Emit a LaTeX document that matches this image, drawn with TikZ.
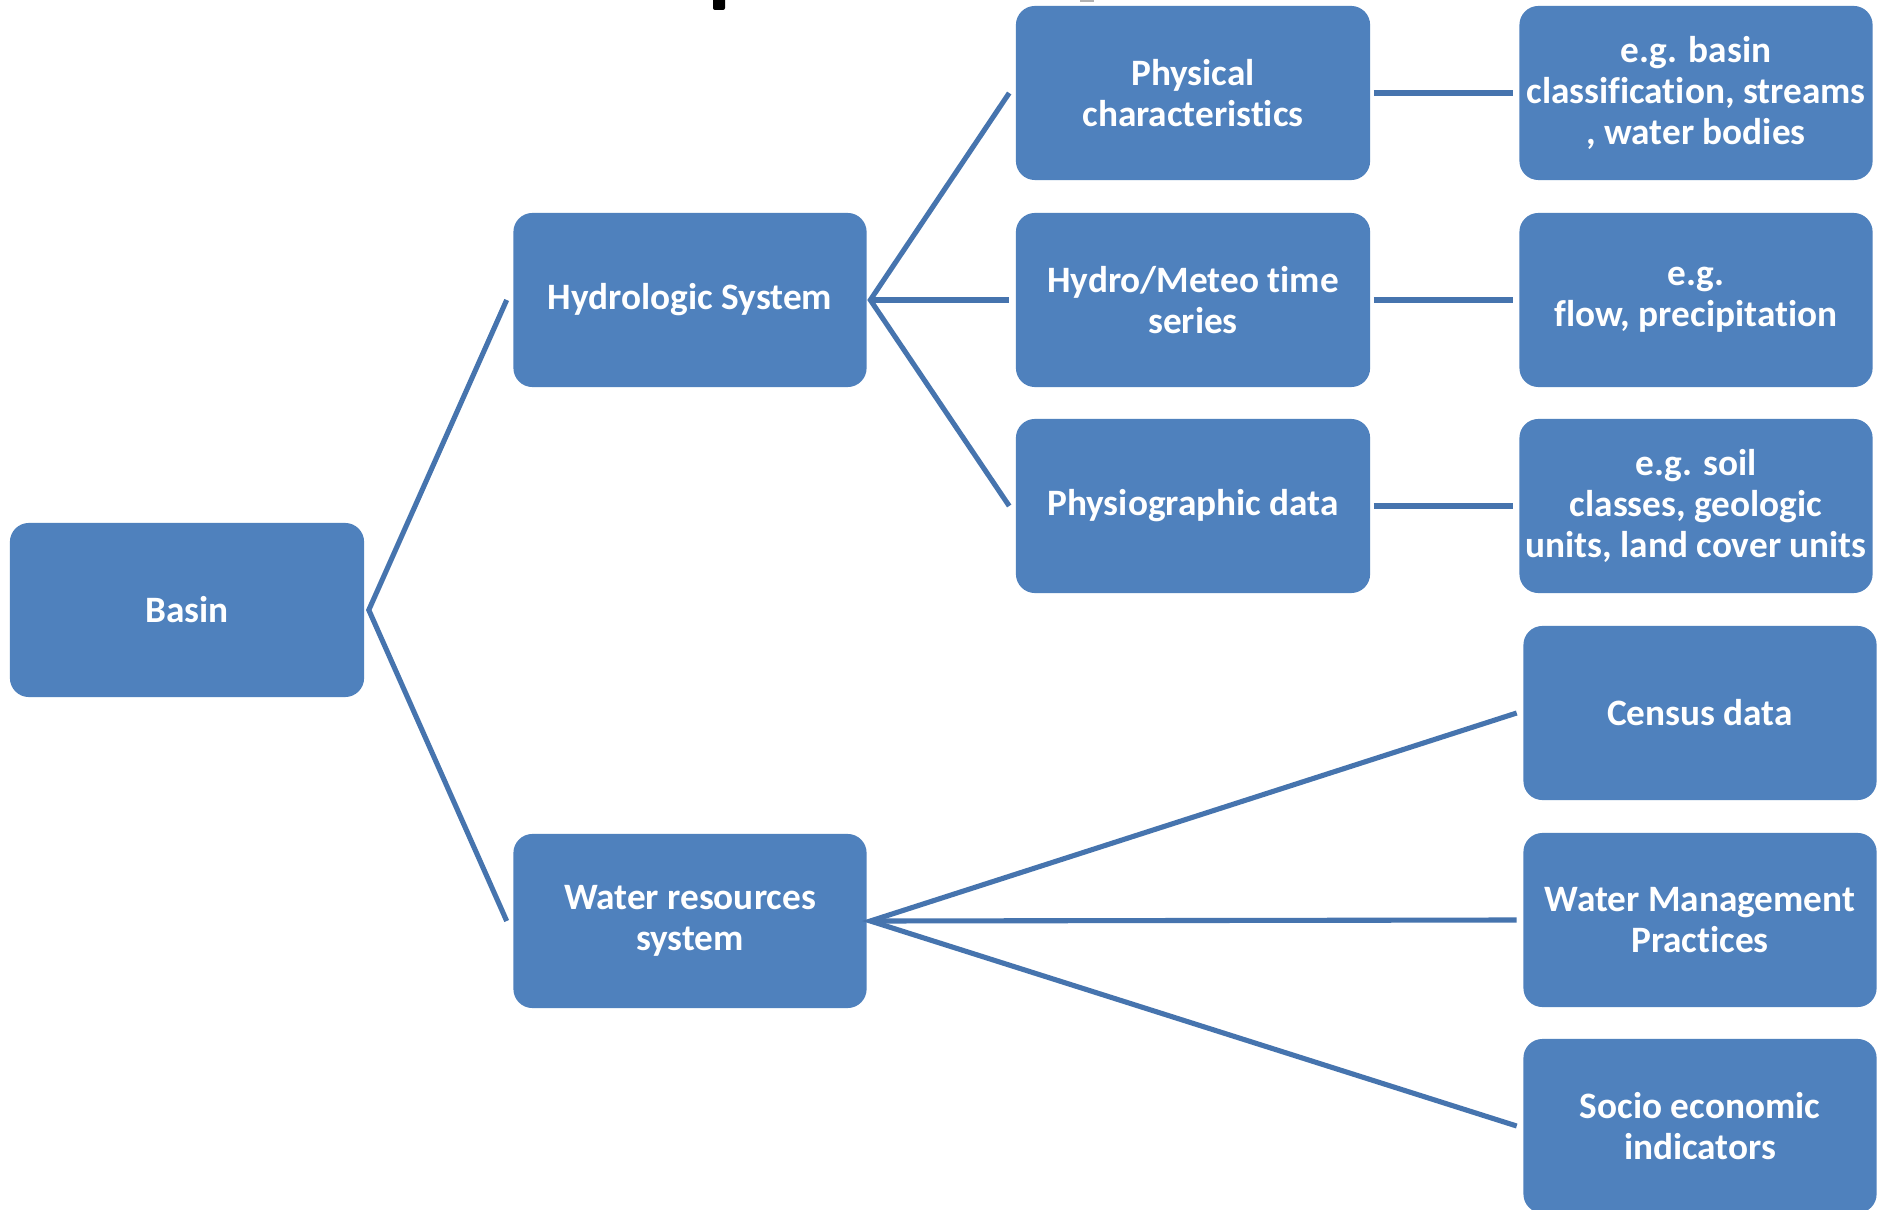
\documentclass[tikz,border=0pt]{standalone}
\usepackage{fontspec}
\setmainfont{Carlito}[Ligatures=NoCommon]
\definecolor{boxblue}{HTML}{4F81BD}
\definecolor{lineblue}{HTML}{4674AE}
\begin{document}
\begin{tikzpicture}[x=0.01cm,y=-0.01cm,
  box/.style={draw=none, fill=boxblue, rounded corners=0.19cm, minimum width=3.53cm, minimum height=1.74cm,
    text=white, align=center, inner sep=0pt, font=\fontsize{10.6pt}{11.7pt}\selectfont\bfseries},
  conn/.style={draw=lineblue, line width=1.45pt, line join=miter}]
\clip (0,0) rectangle (1877,1210);
\fill[white] (0,0) rectangle (1877,1210);
% cut-off title fragments
\fill[black, rounded corners=0.02cm] (713,-5) rectangle (725,10);
\fill[gray!60] (1080,0) rectangle (1094,2);

\node[box, minimum width=3.54cm] (basin) at (187,610) {\raisebox{-2pt}{Basin}};
\node[box] (hydro) at (690,300) {\raisebox{-2pt}{Hydrologic System}};
\node[box] (water) at (690,921) {Water resources\\system};

\node[box, minimum width=3.54cm] (phys) at (1193,93) {Physical\\characteristics};
\node[box, minimum width=3.54cm] (meteo) at (1193,300) {Hydro/Meteo time\\series};
\node[box, minimum width=3.54cm] (physio) at (1193,506) {\raisebox{-2pt}{Physiographic data}};

\node[box] (eg1) at (1696,93) {e.g. basin\\classification, streams\\, water bodies};
\node[box] (eg2) at (1696,300) {e.g.\\flow, precipitation};
\node[box] (eg3) at (1696,506) {e.g. soil\\classes, geologic\\units, land cover units};

\node[box] (census) at (1700,713) {\raisebox{-2pt}{Census data}};
\node[box] (wmp) at (1700,920) {Water Management\\Practices};
\node[box] (socio) at (1700,1126) {Socio economic\\indicators};

% junction points
\coordinate (bj) at ([xshift=0.04cm]basin.east);
\coordinate (hj) at ([xshift=0.03cm]hydro.east);
\coordinate (wj) at ([xshift=0.03cm]water.east);

\draw[conn] ([xshift=-0.06cm]hydro.west) -- (bj) -- ([xshift=-0.06cm]water.west);
\draw[conn] ([xshift=-0.06cm]phys.west) -- (hj) -- ([xshift=-0.06cm]physio.west);
\draw[conn] (hj) -- ([xshift=-0.06cm]meteo.west);
\draw[conn] ([xshift=0.03cm]phys.east) -- ([xshift=-0.06cm]eg1.west);
\draw[conn] ([xshift=0.03cm]meteo.east) -- ([xshift=-0.06cm]eg2.west);
\draw[conn] ([xshift=0.03cm]physio.east) -- ([xshift=-0.06cm]eg3.west);
\draw[conn] ([xshift=-0.06cm]census.west) -- (wj) -- ([xshift=-0.06cm]socio.west);
\draw[conn] (wj) -- ([xshift=-0.06cm]wmp.west);
\end{tikzpicture}
\end{document}
